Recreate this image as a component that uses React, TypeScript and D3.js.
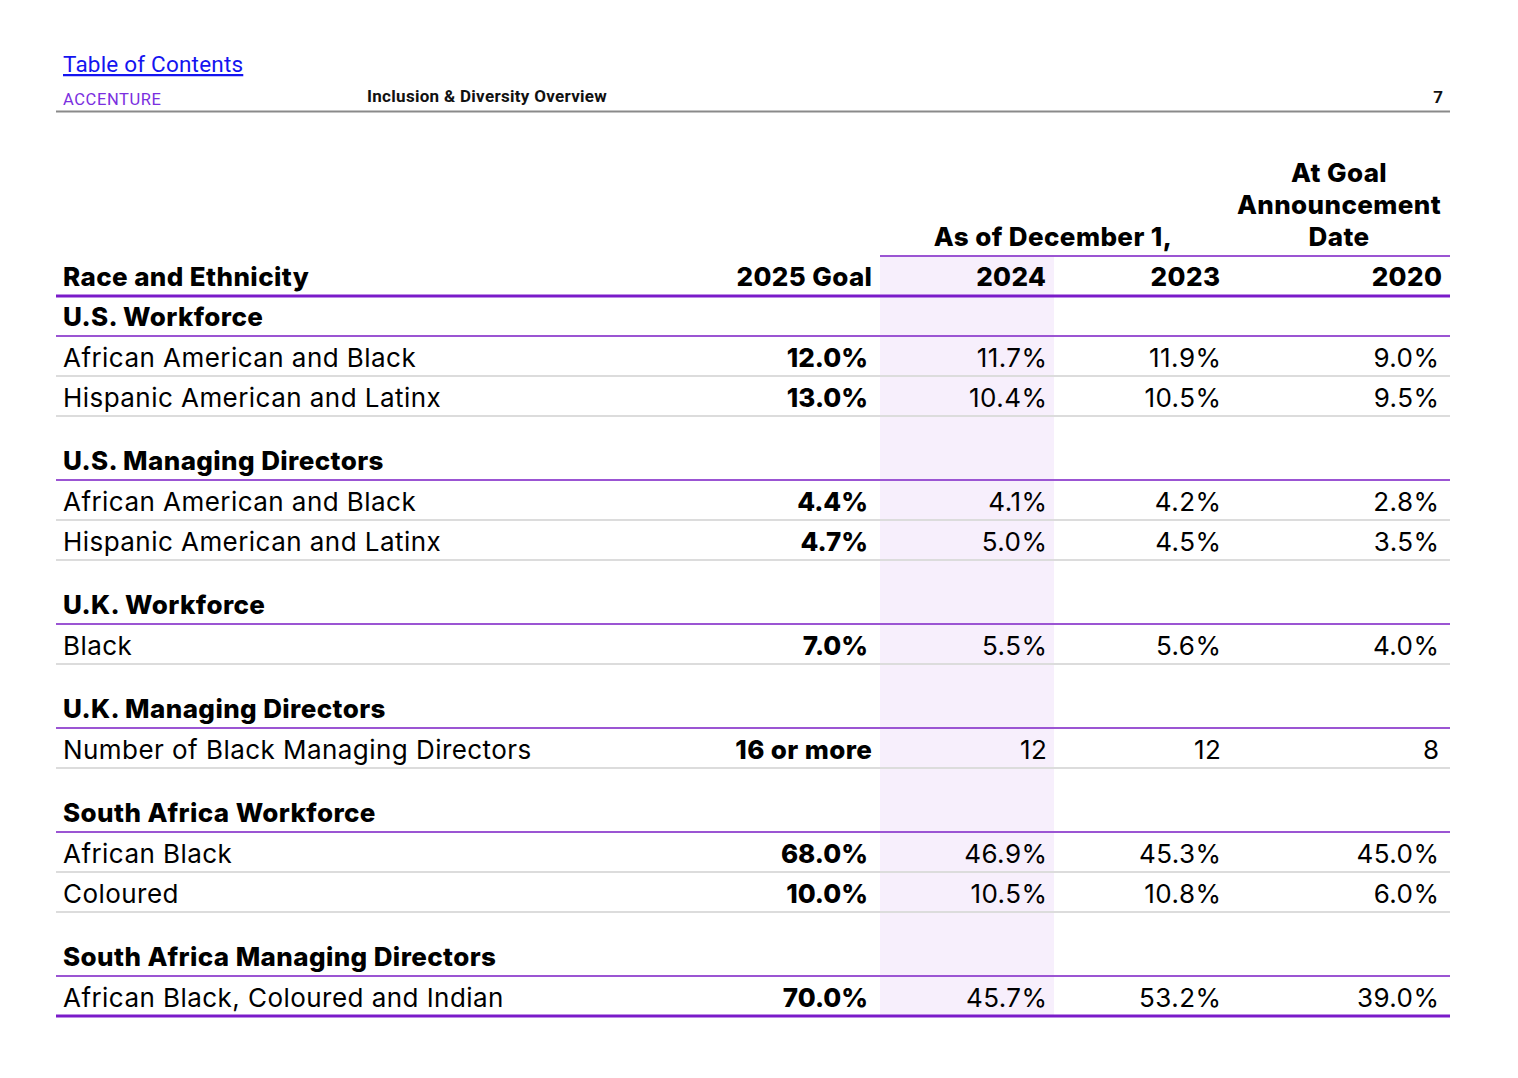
import React from "react";
import * as d3 from "d3";

const sections = [
  "U.S. Workforce",
  "U.S. Managing Directors",
  "U.K. Workforce",
  "U.K. Managing Directors",
  "South Africa Workforce",
  "South Africa Managing Directors",
];
const rowSection = [0, 0, 1, 1, 2, 3, 4, 4, 5];
const rowLabels = [
  "African American and Black",
  "Hispanic American and Latinx",
  "African American and Black",
  "Hispanic American and Latinx",
  "Black",
  "Number of Black Managing Directors",
  "African Black",
  "Coloured",
  "African Black, Coloured and Indian",
];
const goal2025 = ["12.0%", "13.0%", "4.4%", "4.7%", "7.0%", "16 or more", "68.0%", "10.0%", "70.0%"];
const val2024 = ["11.7%", "10.4%", "4.1%", "5.0%", "5.5%", "12", "46.9%", "10.5%", "45.7%"];
const val2023 = ["11.9%", "10.5%", "4.2%", "4.5%", "5.6%", "12", "45.3%", "10.8%", "53.2%"];
const val2020 = ["9.0%", "9.5%", "2.8%", "3.5%", "4.0%", "8", "45.0%", "6.0%", "39.0%"];
const colHeaders = ["2025 Goal", "2024", "2023", "2020"];

const BOLD = "Inter, 'Noto Sans', sans-serif";
const REG = "Inter, 'Noto Sans', sans-serif";
const PURPLE_DARK = "#7a1bc9";
const PURPLE = "#9b55d3";
const GREY = "#dcdcdc";
const HILITE = "#f7effc";

export default function App() {
  const W = 1518;
  const H = 1078;
  const left = 56;
  const right = 1450;

  // column right edges
  const colX = d3.scaleOrdinal<string, number>().domain(colHeaders).range([872, 1046, 1220, 1442]);
  const valX = d3.scaleOrdinal<string, number>().domain(colHeaders).range([868, 1047, 1221, 1439]);

  type Item = { kind: "section" | "row"; idx: number; top: number };
  const items: Item[] = [];
  let y = 296;
  let prevSection = -1;
  rowSection.forEach((s, i) => {
    if (s !== prevSection) {
      if (prevSection !== -1) y += 24;
      items.push({ kind: "section", idx: s, top: y });
      y += 40;
      prevSection = s;
    }
    items.push({ kind: "row", idx: i, top: y });
    y += 40;
  });
  const tableBottom = y;

  return (
    <svg
      width={W}
      height={H}
      style={{ position: "absolute", left: 0, top: 0, background: "#fff" }}
    >
      {/* top header */}
      <text x={63} y={72} fontFamily="Roboto, sans-serif" fontSize={22.5} letterSpacing={0.2} fill="#1414f0" textDecoration="underline">
        Table of Contents
      </text>
      <text x={63} y={105} fontFamily="Roboto, sans-serif" fontSize={16.5} letterSpacing={0.6} fill="#7b2fe0">
        ACCENTURE
      </text>
      <text x={367} y={102} fontFamily="Roboto, sans-serif" fontWeight={700} fontSize={17} letterSpacing={0.3} fill="#111">
        Inclusion &amp; Diversity Overview
      </text>
      <text x={1443} y={103} textAnchor="end" fontFamily="Roboto, sans-serif" fontWeight={700} fontSize={17} fill="#111">
        7
      </text>
      <line x1={56} x2={1450} y1={111.5} y2={111.5} stroke="#8a8a8a" strokeWidth={2} />

      {/* highlight column */}
      <rect x={880} y={256} width={174} height={tableBottom - 256} fill={HILITE} />
      {items
        .filter((it) => it.kind === "section" && it.idx > 0)
        .map((it) => (
          <line key={"sp" + it.idx} x1={880} x2={1054} y1={it.top - 24} y2={it.top - 24} stroke="#f2e8f8" strokeWidth={2} />
        ))}

      {/* header group */}
      {["At Goal", "Announcement", "Date"].map((t, i) => (
        <text key={t} x={1339} y={182 + i * 32} textAnchor="middle" fontFamily={BOLD} fontWeight={800} fontSize={26} letterSpacing={0.4} fill="#000">
          {t}
        </text>
      ))}
      <text x={1053} y={246} textAnchor="middle" fontFamily={BOLD} fontWeight={800} fontSize={26} letterSpacing={0.4} fill="#000">
        As of December 1,
      </text>
      <line x1={880} x2={right} y1={256} y2={256} stroke={PURPLE} strokeWidth={2} />

      <text x={63} y={286} fontFamily={BOLD} fontWeight={800} fontSize={26} letterSpacing={0.4} fill="#000">
        Race and Ethnicity
      </text>
      {colHeaders.map((h) => (
        <text key={h} x={colX(h) + 0.4} y={286} textAnchor="end" fontFamily={BOLD} fontWeight={800} fontSize={26} letterSpacing={0.4} fill="#000">
          {h}
        </text>
      ))}
      <line x1={left} x2={right} y1={296} y2={296} stroke={PURPLE_DARK} strokeWidth={3} />

      {items.map((it) => {
        if (it.kind === "section") {
          return (
            <g key={"s" + it.idx}>
              <text x={63} y={it.top + 30} fontFamily={BOLD} fontWeight={800} fontSize={26} letterSpacing={0.4} fill="#000">
                {sections[it.idx]}
              </text>
              <line x1={left} x2={right} y1={it.top + 40} y2={it.top + 40} stroke={PURPLE} strokeWidth={2} />
            </g>
          );
        }
        const i = it.idx;
        const vals = [goal2025[i], val2024[i], val2023[i], val2020[i]];
        const isLast = i === rowLabels.length - 1;
        return (
          <g key={"r" + i}>
            <text x={63} y={it.top + 31} fontFamily={REG} fontWeight={400} fontSize={26} letterSpacing={0.45} fill="#000">
              {rowLabels[i]}
            </text>
            {vals.map((v, c) => (
              <text
                key={c}
                x={c === 0 && !v.endsWith("%") ? colX(colHeaders[c]) + 0.4 : valX(colHeaders[c]) + (c === 0 ? 0 : 0.45)}
                y={it.top + 31}
                textAnchor="end"
                fontFamily={c === 0 ? BOLD : REG}
                fontWeight={c === 0 ? 800 : 400}
                fontSize={26}
                letterSpacing={c === 0 ? (v.endsWith("%") ? 0 : 0.4) : 0.45}
                fill="#000"
              >
                {v}
              </text>
            ))}
            <line
              x1={left}
              x2={right}
              y1={it.top + 40}
              y2={it.top + 40}
              stroke={isLast ? PURPLE_DARK : GREY}
              strokeWidth={isLast ? 3 : 2}
            />
          </g>
        );
      })}
    </svg>
  );
}
